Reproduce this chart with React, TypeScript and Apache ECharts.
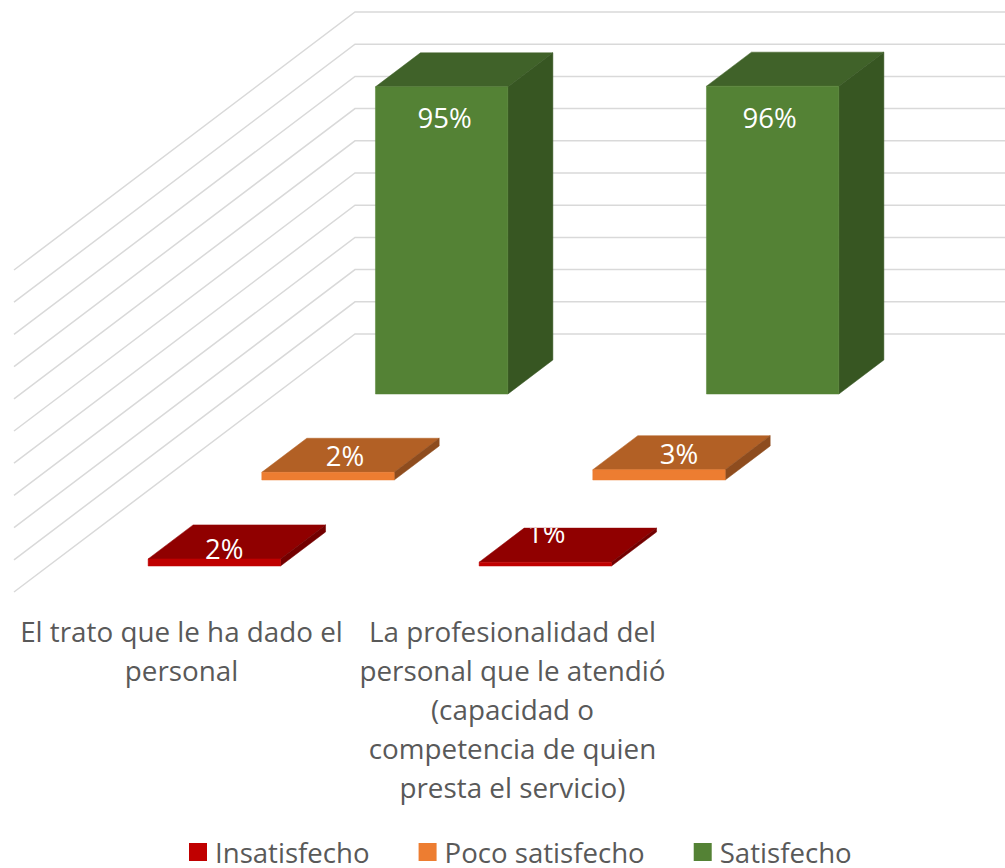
import React, { useEffect, useRef } from "react";
import * as echarts from "echarts";

const categories = [
  "El trato que le ha dado el\npersonal",
  "La profesionalidad del\npersonal que le atendió\n(capacidad o\ncompetencia de quien\npresta el servicio)",
];
const seriesNames = ["Insatisfecho", "Poco satisfecho", "Satisfecho"];
const insatisfecho = [2.2, 1.2];
const pocoSatisfecho = [2.4, 3.2];
const satisfecho = [95.4, 95.6];
const yTicks = [0, 10, 20, 30, 40, 50, 60, 70, 80, 90, 100];

const seriesValues = [insatisfecho, pocoSatisfecho, satisfecho];
const faceColors = [
  { front: "#C00000", top: "#900000", side: "#730000" },
  { front: "#ED7D31", top: "#B26025", side: "#8E4C1E" },
  { front: "#548235", top: "#406229", side: "#375622" },
];
// label offset from the centre of each bar's front top edge: [series][category][dx, dy]
const labelOffsets = [
  [[10, -10], [1, -30]],
  [[17, -17], [20, -16]],
  [[3, 31], [-3, 31]],
];

const WALL_DX = 341;
const WALL_DY = -258;
const BAR_WIDTH_RATIO = 0.4;
const BAR_DEPTH = 0.132;
const FONT = '27.5px "Open Sans"';

function gridRender(_params: any, api: any) {
  const v = api.value(1);
  const start = api.coord([0, v]);
  const x0 = 14;
  return {
    type: "polyline",
    shape: {
      points: [
        [x0, start[1]],
        [x0 + WALL_DX, start[1] + WALL_DY],
        [api.getWidth() + 20, start[1] + WALL_DY],
      ],
    },
    style: { stroke: "#D9D9D9", lineWidth: 1.5, fill: "none" },
  };
}

function barRender(seriesIndex: number) {
  return (_params: any, api: any) => {
    const cat = api.value(0);
    const val = api.value(1);
    const base = api.coord([cat, 0]);
    const top = api.coord([cat, val]);
    const width = api.size([1, 0])[0] * BAR_WIDTH_RATIO;
    const frac = (seriesIndex + 0.5) / 3 - BAR_DEPTH / 2;
    const ox = WALL_DX * frac;
    const oy = WALL_DY * frac;
    const dx = WALL_DX * BAR_DEPTH;
    const dy = WALL_DY * BAR_DEPTH;
    const l = base[0] + ox - width / 2 + 0.5;
    const r = l + width;
    const b = base[1] + oy;
    const t = top[1] + oy;
    const c = faceColors[seriesIndex];
    const [lx, ly] = labelOffsets[seriesIndex][cat];
    const poly = (points: number[][], fill: string) => ({
      type: "polygon",
      shape: { points },
      style: { fill, stroke: fill, lineWidth: 0.5 },
    });
    return {
      type: "group",
      children: [
        poly([[l, t], [r, t], [r + dx, t + dy], [l + dx, t + dy]], c.top),
        poly([[r, b], [r, t], [r + dx, t + dy], [r + dx, b + dy]], c.side),
        poly([[l, b], [r, b], [r, t], [l, t]], c.front),
        {
          type: "text",
          style: {
            x: (l + r) / 2 + lx,
            y: t + ly,
            text: Math.round(val) + "%",
            fill: "#FFFFFF",
            font: FONT,
            align: "center",
            verticalAlign: "middle",
          },
          clipPath: {
            type: "rect",
            shape: { x: 0, y: t + dy, width: api.getWidth(), height: api.getHeight() },
          },
        },
      ],
    };
  };
}

export default function App() {
  const ref = useRef<HTMLDivElement>(null);
  useEffect(() => {
    const chart = echarts.init(ref.current!, undefined, { renderer: "svg" });
    chart.setOption({
      animation: false,
      backgroundColor: "#FFFFFF",
      grid: { left: 14, right: 329, top: 270, bottom: 276 },
      xAxis: {
        type: "category",
        data: categories,
        axisLine: { show: false },
        axisTick: { show: false },
        axisLabel: {
          interval: 0,
          color: "#595959",
          fontFamily: "Open Sans",
          fontSize: 27.8,
          lineHeight: 39,
          margin: 19,
          align: "center",
          padding: [0, 0, 0, 4],
        },
      },
      yAxis: { type: "value", min: 0, max: 100, interval: 10, show: false },
      legend: {
        data: seriesNames,
        left: 184,
        top: 833,
        itemWidth: 18,
        itemHeight: 18,
        itemGap: 49,
        icon: "rect",
        selectedMode: false,
        textStyle: {
          color: "#595959",
          fontFamily: "Open Sans",
          fontSize: 27.6,
          lineHeight: 27,
          padding: [0, 0, 0, 3],
        },
      },
      series: [
        {
          type: "custom",
          name: "grid",
          silent: true,
          renderItem: gridRender,
          data: yTicks.map((v) => [0, v]),
          z: 1,
        },
        ...seriesNames.map((name, i) => ({
          type: "custom",
          name,
          silent: true,
          itemStyle: { color: faceColors[i].front },
          renderItem: barRender(i),
          data: seriesValues[i].map((v, c) => [c, v]),
          z: 2 + i,
        })),
      ],
    });
    return () => chart.dispose();
  }, []);
  return (
    <div
      ref={ref}
      style={{ position: "absolute", left: 0, top: 0, width: 1005, height: 868, overflow: "hidden" }}
    />
  );
}
